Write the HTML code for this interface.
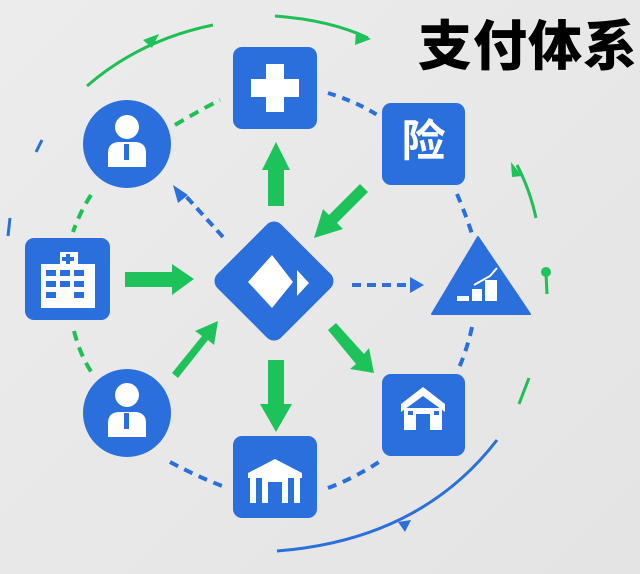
<!DOCTYPE html>
<html><head><meta charset="utf-8"><style>
html,body{margin:0;padding:0;}
body{width:640px;height:574px;background:linear-gradient(135deg,#ececec,#e4e4e4);overflow:hidden;position:relative;}
svg{position:absolute;left:0;top:0;}
.t{position:absolute;left:418px;top:2px;font:900 54px "Noto Sans CJK SC","WenQuanYi Zen Hei",sans-serif;color:#000;letter-spacing:1px;}
</style></head><body>
<svg width="640" height="574" viewBox="0 0 640 574">
<g fill="none" stroke-linecap="butt">
<path d="M87 86 Q140 40 213 25" stroke="#1fbf55" stroke-width="3"/>
<path d="M275 16 Q330 20 368 38" stroke="#1fbf55" stroke-width="3"/>
<path d="M536 218 Q530 190 517 165" stroke="#1fbf55" stroke-width="3"/>
<path d="M546 274 L547 294" stroke="#1fbf55" stroke-width="3"/>
<path d="M529 378 L519 404" stroke="#1fbf55" stroke-width="3"/>
<path d="M497 440 Q420 540 277 551" stroke="#2a6fdc" stroke-width="3"/>
<path d="M42 140 L36 152" stroke="#2a6fdc" stroke-width="3"/>
<path d="M10 218 L8 236" stroke="#2a6fdc" stroke-width="3"/>
<path d="M175 125 Q200 110 220 100" stroke="#1fbf55" stroke-width="4" stroke-dasharray="10 7"/>
<path d="M91 195 Q80 212 73 232" stroke="#1fbf55" stroke-width="4" stroke-dasharray="10 7"/>
<path d="M74 331 Q80 355 92 373" stroke="#1fbf55" stroke-width="4" stroke-dasharray="10 7"/>
<path d="M328 93 Q360 103 382 118" stroke="#2a6fdc" stroke-width="4" stroke-dasharray="8 7"/>
<path d="M457 194 Q466 215 473 237" stroke="#2a6fdc" stroke-width="4" stroke-dasharray="9 7"/>
<path d="M472 327 Q467 350 458 370" stroke="#2a6fdc" stroke-width="4" stroke-dasharray="9 7"/>
<path d="M170 462 Q200 478 225 487" stroke="#2a6fdc" stroke-width="4" stroke-dasharray="9 7"/>
<path d="M328 488 Q355 478 382 460" stroke="#2a6fdc" stroke-width="4" stroke-dasharray="9 7"/>
<path d="M223 237 L183 193" stroke="#2a6fdc" stroke-width="4" stroke-dasharray="9 6"/>
<path d="M352 285 L412 285" stroke="#2a6fdc" stroke-width="4" stroke-dasharray="9 6"/>
</g>
<g fill="#1dc35a">
<polygon points="143,40 159,34 152,48"/>
<polygon points="356,31 371,39 355,45"/>
<polygon points="511,162 522,176 512,177"/>
<circle cx="546" cy="272" r="5"/>
<polygon points="125,272 172,272 172,264 194,279 172,295 172,287 125,287"/>
<polygon points="268,206 268,170 262,170 276,142 290,170 284,170 284,206"/>
<polygon points="368,192 337,223 343,229 314,238 323,209 329,215 360,184"/>
<polygon points="182,383 212,346 205,341 228,331 224,355 218,350 188,388" transform="translate(-10,-10)"/>
<polygon points="268,360 268,404 260,404 276,432 292,404 284,404 284,360"/>
<polygon points="328,330 356,364 350,369 374,373 369,348 364,354 336,323"/>
</g>
<g fill="#2a6fdc">
<polygon points="411,520 405,532 398,522"/>
<polygon points="173,185 178,203 188,195"/>
<polygon points="410,277 424,285 410,293"/>
<rect x="233" y="47" width="84" height="82" rx="9"/>
<rect x="382" y="103" width="83" height="82" rx="9"/>
<circle cx="127" cy="144" r="44"/>
<rect x="25" y="238" width="85" height="82" rx="9"/>
<rect x="229" y="236" width="90" height="90" rx="10" transform="rotate(45 274 281)"/>
<path d="M478 237 L530 314 L432 314 Z" stroke="#2a6fdc" stroke-width="2" stroke-linejoin="round"/>
<circle cx="127" cy="413" r="44"/>
<rect x="233" y="436" width="84" height="82" rx="9"/>
<rect x="382" y="374" width="83" height="82" rx="9"/>
</g>
<g fill="#fff">
<rect x="266" y="64" width="18" height="48"/><rect x="251" y="79" width="48" height="18"/>
<circle cx="127" cy="127" r="12"/>
<path d="M108 167 L108 153 Q108 143 118 142 L136 142 Q146 143 146 153 L146 167 Z"/>
<circle cx="127" cy="395" r="12"/>
<path d="M108 437 L108 423 Q108 413 118 412 L136 412 Q146 413 146 423 L146 437 Z"/>
<rect x="60" y="252" width="18" height="14"/>
<rect x="41" y="264" width="54" height="44"/>
<polygon points="272,255 293,282 272,308 248,282"/>
<polygon points="297,270 309,283 297,296"/>
<rect x="457" y="296" width="12" height="5"/><rect x="472" y="289" width="10" height="12"/><rect x="485" y="280" width="12" height="21"/>
<polygon points="423,387 401,404 401,412 423,396 445,412 445,404"/>
<rect x="404" y="408" width="38" height="22"/>
<polygon points="275,459 248,473 302,473"/>
<rect x="248" y="473" width="54" height="5"/>
<rect x="250" y="478" width="6" height="25"/><rect x="262" y="478" width="6" height="25"/><rect x="282" y="478" width="6" height="25"/><rect x="294" y="478" width="6" height="25"/>
<rect x="262" y="478" width="26" height="4"/>
</g>
<g fill="#2a6fdc">
<rect x="124" y="144" width="5" height="16"/>
<rect x="124" y="413" width="5" height="16"/>
<rect x="66" y="254" width="4" height="10"/><rect x="62" y="257" width="12" height="4"/>
<rect x="46" y="270" width="10" height="6"/><rect x="60" y="270" width="10" height="6"/><rect x="74" y="270" width="10" height="6"/>
<rect x="46" y="281" width="10" height="6"/><rect x="60" y="281" width="10" height="6"/><rect x="74" y="281" width="10" height="6"/>
<rect x="46" y="292" width="10" height="6"/><rect x="74" y="292" width="10" height="6"/>
<rect x="416" y="414" width="14" height="16"/>
<rect x="408" y="411" width="5" height="4"/><rect x="434" y="411" width="5" height="4"/>
</g>
<path d="M474 285 L490 276 L497 268" stroke="#fff" stroke-width="2" fill="none"/>
<text x="423.5" y="156" font-family="Noto Sans CJK SC, sans-serif" font-size="44" font-weight="bold" fill="#fff" text-anchor="middle">险</text>
</svg>
<div class="t">支付体系</div>
</body></html>
